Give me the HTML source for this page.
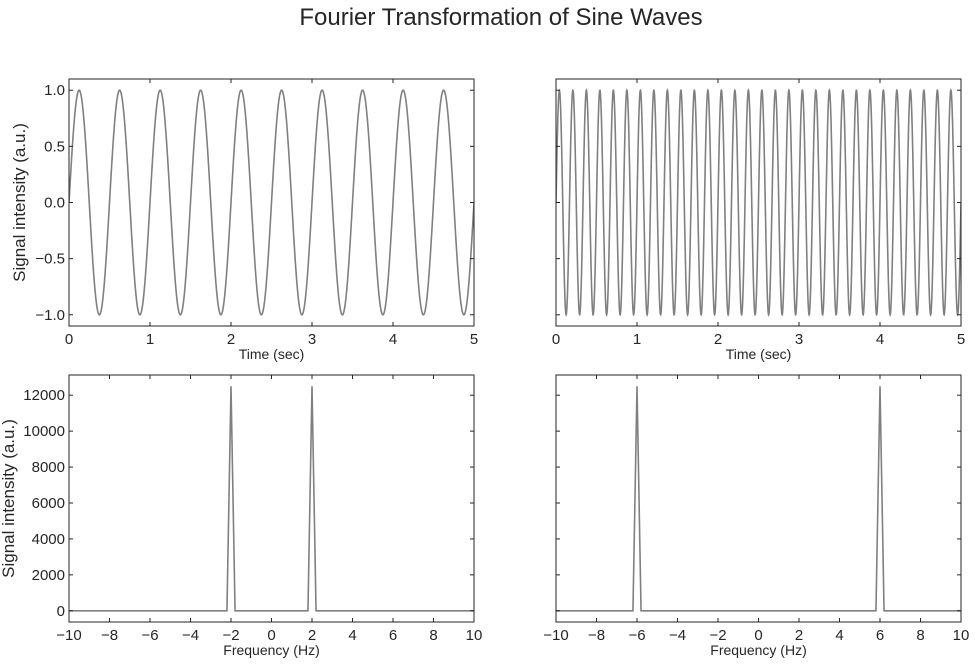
<!DOCTYPE html>
<html><head><meta charset="utf-8"><style>
body{margin:0;background:#fff;}
svg{display:block;font-family:"Liberation Sans",Arial,sans-serif;}
</style></head><body>
<svg id="fig" width="976" height="665">
<text x="501" y="25" text-anchor="middle" font-size="24" fill="#262626">Fourier Transformation of Sine Waves</text>
</svg>
<script>
// data
const sineFreqs = [2, 6];          // Hz
const sineAmps = [1, 1];
const timeTicks = [0, 1, 2, 3, 4, 5];
const sigTicks = [-1.0, -0.5, 0.0, 0.5, 1.0];
const sigTickLabels = ["\u22121.0", "\u22120.5", "0.0", "0.5", "1.0"];
const freqTicks = [-10, -8, -6, -4, -2, 0, 2, 4, 6, 8, 10];
const fftTicks = [0, 2000, 4000, 6000, 8000, 10000, 12000];
const fftPeakFreqs = [[-2, 2], [-6, 6]];
const fftPeakVals = [[12500, 12500], [12500, 12500]];
const fftStep = 0.2;

const NS = "http://www.w3.org/2000/svg";
const svg = document.getElementById('fig');
function mk(tag, attrs, parent) {
  const e = document.createElementNS(NS, tag);
  for (const k in attrs) e.setAttribute(k, attrs[k]);
  (parent || svg).appendChild(e);
  return e;
}
const panels = [
  {x0: 69, x1: 474, y0: 79, y1: 326},
  {x0: 556, x1: 961, y0: 79, y1: 326},
  {x0: 69, x1: 474, y0: 375, y1: 622},
  {x0: 556, x1: 961, y0: 375, y1: 622}
];
function fmt(v){return v<0?"\u2212"+Math.abs(v):String(v);}

function drawPanel(p, xmin, xmax, ymin, ymax, xt, xl, yt, yl, showY, xlabel, ylabel, name, pathPts) {
  const g = mk('g', {});
  
  
  const sx = v => p.x0 + (v - xmin) / (xmax - xmin) * (p.x1 - p.x0);
  const sy = v => p.y1 - (v - ymin) / (ymax - ymin) * (p.y1 - p.y0);
  const cid = name + '-clip';
  const cp = mk('clipPath', {id: cid}, g);
  mk('rect', {x: p.x0, y: p.y0, width: p.x1 - p.x0, height: p.y1 - p.y0}, cp);
  const pts = pathPts(sx, sy);
  const line = mk('polyline', {points: pts.join(' '), fill: 'none', stroke: '#808080', 'stroke-width': 1.6, 'clip-path': 'url(#' + cid + ')'}, g);
  
  
  const frame = mk('rect', {x: p.x0, y: p.y0, width: p.x1 - p.x0, height: p.y1 - p.y0, fill: 'none', stroke: '#262626', 'stroke-width': 1}, g);
  
  
  xt.forEach((v, i) => {
    const x = sx(v);
    mk('line', {x1: x, x2: x, y1: p.y1, y2: p.y1 - 4, stroke: '#262626'}, g);
    mk('line', {x1: x, x2: x, y1: p.y0, y2: p.y0 + 4, stroke: '#262626'}, g);
    const t = mk('text', {x: x, y: p.y1 + 18, 'text-anchor': 'middle', 'font-size': 15, fill: '#262626'}, g);
    t.textContent = xl[i];
    
    
  });
  yt.forEach((v, i) => {
    const y = sy(v);
    mk('line', {x1: p.x0, x2: p.x0 + 4, y1: y, y2: y, stroke: '#262626'}, g);
    mk('line', {x1: p.x1, x2: p.x1 - 4, y1: y, y2: y, stroke: '#262626'}, g);
    if (showY) {
      const t = mk('text', {x: p.x0 - 4, y: y + 5, 'text-anchor': 'end', 'font-size': 15, fill: '#262626'}, g);
      t.textContent = yl[i];
      
      
    }
  });
  const xlab = mk('text', {x: (p.x0 + p.x1) / 2, y: p.y1 + 33, 'text-anchor': 'middle', 'font-size': 14, fill: '#262626'}, g);
  xlab.textContent = xlabel;
  
  
  if (ylabel) {
    const cx = ylabel.x, cy = (p.y0 + p.y1) / 2;
    const yl2 = mk('text', {x: cx, y: cy, 'text-anchor': 'middle', 'font-size': 17, fill: '#262626', transform: 'rotate(-90 ' + cx + ' ' + cy + ')'}, g);
    yl2.textContent = 'Signal intensity (a.u.)';
    
    
  }
}

for (let k = 0; k < 2; k++) {
  drawPanel(panels[k], 0, 5, -1.1, 1.1, timeTicks, timeTicks.map(String), sigTicks, sigTickLabels, k === 0,
    'Time (sec)', k === 0 ? {x: 25} : null, 'time-panel-' + (k + 1), (sx, sy) => {
      const pts = [];
      for (let i = 0; i <= 2000; i++) {
        const t = 5 * i / 2000;
        pts.push(sx(t).toFixed(2) + ',' + sy(sineAmps[k] * Math.sin(2 * Math.PI * sineFreqs[k] * t)).toFixed(2));
      }
      return pts;
    });
  drawPanel(panels[k + 2], -10, 10, -625, 13125, freqTicks, freqTicks.map(fmt), fftTicks, fftTicks.map(String), k === 0,
    'Frequency (Hz)', k === 0 ? {x: 14} : null, 'fft-panel-' + (k + 1), (sx, sy) => {
      const pts = [sx(-10) + ',' + sy(0)];
      fftPeakFreqs[k].forEach((f, j) => {
        pts.push(sx(f - fftStep) + ',' + sy(0));
        pts.push(sx(f) + ',' + sy(fftPeakVals[k][j]));
        pts.push(sx(f + fftStep) + ',' + sy(0));
      });
      pts.push(sx(10) + ',' + sy(0));
      return pts;
    });
}
</script>
</body></html>
